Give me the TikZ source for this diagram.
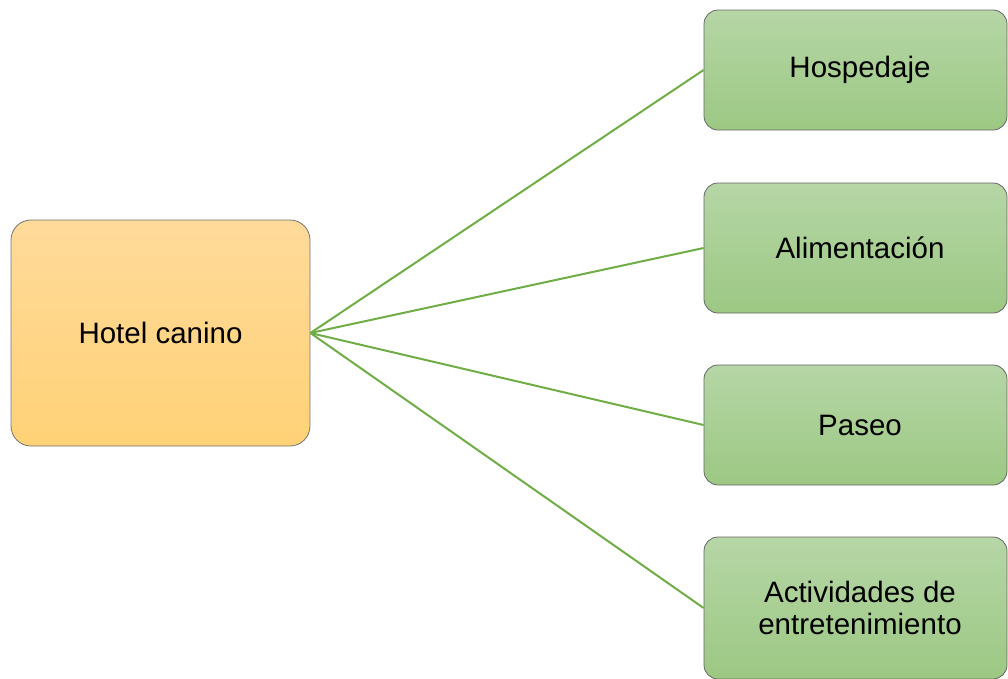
\documentclass[tikz,border=0pt]{standalone}
\usepackage{fontspec}
\setmainfont{Liberation Sans}
\usetikzlibrary{positioning}
\definecolor{lineagreen}{HTML}{70AD47}
\definecolor{naranjaA}{HTML}{FFDA9A}
\definecolor{naranjaB}{HTML}{FFD277}
\definecolor{verdeA}{HTML}{B6D6A6}
\definecolor{verdeB}{HTML}{9CC883}
\tikzset{raiz/.style={draw=black!55,line width=0.8pt,rounded corners=20pt,top color=naranjaA,bottom color=naranjaB,minimum width=299pt,minimum height=226pt,inner sep=0pt,align=center,font=\fontsize{29.5}{32}\selectfont},
         rama/.style={draw=black!60,line width=0.8pt,rounded corners=14pt,top color=verdeA,bottom color=verdeB,minimum width=303pt,inner sep=0pt,align=center,font=\fontsize{29.5}{32}\selectfont},
         enlace/.style={draw=lineagreen,line width=2pt},
        }

\begin{document}
\begin{tikzpicture}[x=1pt,y=-1pt]
        \useasboundingbox (0,0) rectangle (1008,678);
        \clip (0,0) rectangle (1008,678);
        \node[raiz](hotel)at(160.5,333){Hotel canino};
        \node[rama,minimum height=120pt](hosp)at(855.5,70){\hspace*{9pt}Hospedaje};
        \node[rama,minimum height=130pt](alim)at(855.5,248){\hspace*{9pt}Alimentación};
        \node[rama,minimum height=120pt](paseo)at(855.5,425){\hspace*{9pt}Paseo};
        \node[rama,minimum height=142pt](activ)at(855.5,608){\hspace*{9pt}Actividades de\\\hspace*{9pt}entretenimiento};

        \draw[enlace](hotel.east)--(hosp.west);
        \draw[enlace](hotel.east)--(alim.west);
        \draw[enlace](hotel.east)--(paseo.west);
        \draw[enlace](hotel.east)--(activ.west);
    \end{tikzpicture}
\end{document}
